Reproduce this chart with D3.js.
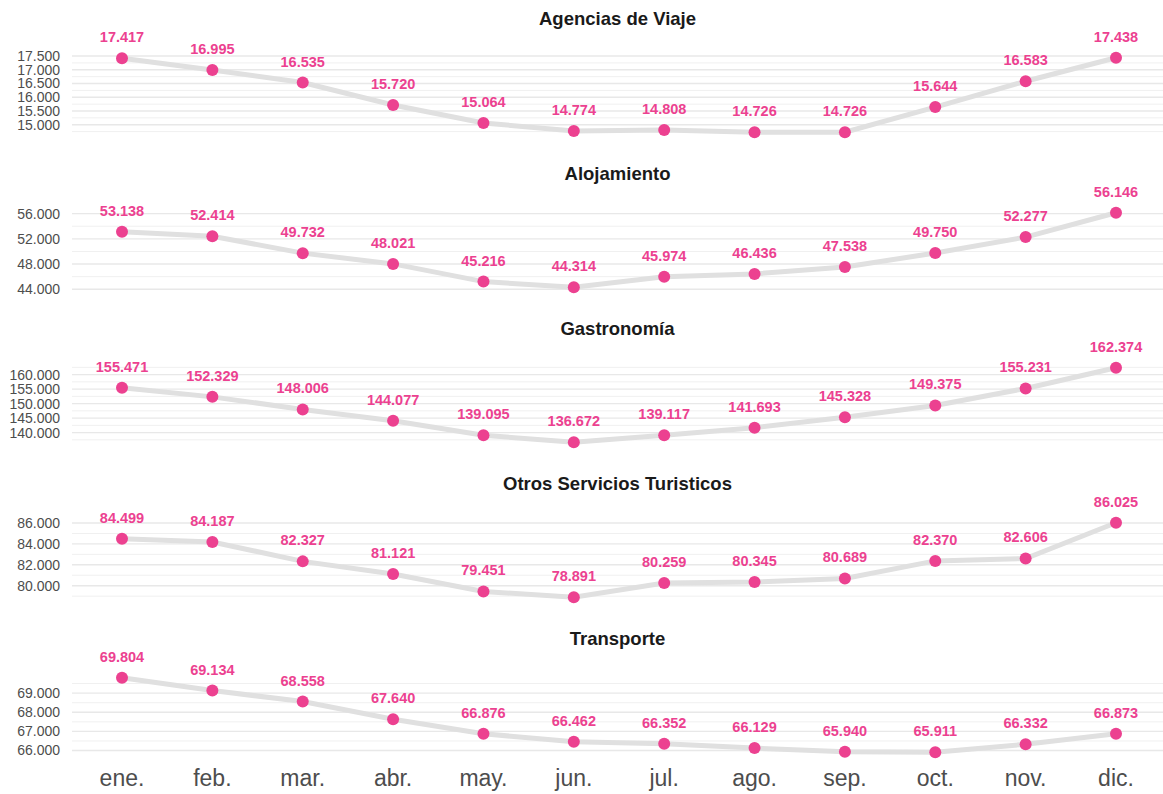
<!DOCTYPE html>
<html>
<head>
<meta charset="utf-8">
<script src="https://cdn.jsdelivr.net/npm/d3@7"></script>
<style>
  body { margin: 0; background: #fff; }
  svg { display: block; font-family: "Liberation Sans", Arial, sans-serif; }
</style>
</head>
<body>
<div id="chart"></div>
<script>
// months on the x axis
const months = ['ene.', 'feb.', 'mar.', 'abr.', 'may.', 'jun.', 'jul.', 'ago.', 'sep.', 'oct.', 'nov.', 'dic.'];

// one series per facet
const titles = ['Agencias de Viaje', 'Alojamiento', 'Gastronomía', 'Otros Servicios Turisticos', 'Transporte'];
const agencias = [17417, 16995, 16535, 15720, 15064, 14774, 14808, 14726, 14726, 15644, 16583, 17438];
const alojamiento = [53138, 52414, 49732, 48021, 45216, 44314, 45974, 46436, 47538, 49750, 52277, 56146];
const gastronomia = [155471, 152329, 148006, 144077, 139095, 136672, 139117, 141693, 145328, 149375, 155231, 162374];
const otros = [84499, 84187, 82327, 81121, 79451, 78891, 80259, 80345, 80689, 82370, 82606, 86025];
const transporte = [69804, 69134, 68558, 67640, 66876, 66462, 66352, 66129, 65940, 65911, 66332, 66873];

// y tick labels per facet
const ticksAgencias = [15000, 15500, 16000, 16500, 17000, 17500];
const ticksAlojamiento = [44000, 48000, 52000, 56000];
const ticksGastronomia = [140000, 145000, 150000, 155000, 160000];
const ticksOtros = [80000, 82000, 84000, 86000];
const ticksTransporte = [66000, 67000, 68000, 69000];

const series = [agencias, alojamiento, gastronomia, otros, transporte];
const tickSets = [ticksAgencias, ticksAlojamiento, ticksGastronomia, ticksOtros, ticksTransporte];

const width = 1163, height = 794;
const pink = '#ec4190';
const panelLeft = 72, panelRight = 1163;
const panelTop0 = 54, panelStep = 155, panelH = 82;

const fmt = d3.formatLocale({ decimal: ',', thousands: '.', grouping: [3], currency: ['', ''] }).format(',d');

const svg = d3.select('#chart').append('svg')
    .attr('width', width)
    .attr('height', height);

const x = d3.scalePoint().domain(months).range([122, 1116]);

series.forEach((values, i) => {
    const top = panelTop0 + i * panelStep;
    const g = svg.append('g');

    // ggplot-like 5% expansion of the data range
    const [lo, hi] = d3.extent(values);
    const pad = (hi - lo) * 0.05;
    const y = d3.scaleLinear().domain([lo - pad, hi + pad]).range([top + panelH, top]);

    const ticks = tickSets[i];
    const step = ticks[1] - ticks[0];
    const minor = d3.range(ticks[0] - step / 2, ticks[ticks.length - 1] + step, step)
        .filter(v => v >= y.domain()[0] && v <= y.domain()[1]);

    g.selectAll('.minor').data(minor).join('line')
        .attr('x1', panelLeft).attr('x2', panelRight)
        .attr('y1', d => y(d)).attr('y2', d => y(d))
        .attr('stroke', '#f0f0f0').attr('stroke-width', 1);

    g.selectAll('.major').data(ticks).join('line')
        .attr('x1', panelLeft).attr('x2', panelRight)
        .attr('y1', d => y(d)).attr('y2', d => y(d))
        .attr('stroke', '#e8e8e8').attr('stroke-width', 1.4);

    g.selectAll('.ytick').data(ticks).join('text')
        .attr('x', 60)
        .attr('y', d => y(d))
        .attr('dy', '0.35em')
        .attr('text-anchor', 'end')
        .attr('font-size', 14)
        .attr('fill', '#4d4d4d')
        .text(d => fmt(d));

    // facet title
    g.append('text')
        .attr('x', (panelLeft + panelRight) / 2)
        .attr('y', top - 29)
        .attr('text-anchor', 'middle')
        .attr('font-size', 18.5)
        .attr('font-weight', 'bold')
        .attr('fill', '#1a1a1a')
        .text(titles[i]);

    const line = d3.line()
        .x((d, j) => x(months[j]))
        .y(d => y(d));

    g.append('path')
        .datum(values)
        .attr('fill', 'none')
        .attr('stroke', '#e0e0e0')
        .attr('stroke-width', 5)
        .attr('d', line);

    g.selectAll('.pt').data(values).join('circle')
        .attr('cx', (d, j) => x(months[j]))
        .attr('cy', d => y(d))
        .attr('r', 6)
        .attr('fill', pink);

    g.selectAll('.lbl').data(values).join('text')
        .attr('x', (d, j) => x(months[j]))
        .attr('y', d => y(d) - 16)
        .attr('text-anchor', 'middle')
        .attr('font-size', 14.5)
        .attr('font-weight', 'bold')
        .attr('fill', pink)
        .text(d => fmt(d));
});

// month labels under the last panel
svg.selectAll('.xtick').data(months).join('text')
    .attr('x', d => x(d))
    .attr('y', 786)
    .attr('text-anchor', 'middle')
    .attr('font-size', 23)
    .attr('fill', '#4d4d4d')
    .text(d => d);
</script>
</body>
</html>
